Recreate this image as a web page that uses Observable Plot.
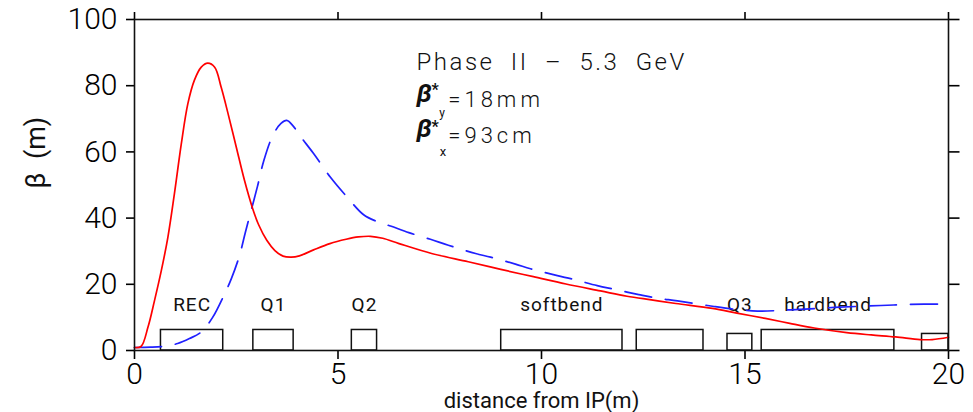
<!DOCTYPE html>
<html><head><meta charset="utf-8">
<script src="https://cdn.jsdelivr.net/npm/d3@7"></script>
<script src="https://cdn.jsdelivr.net/npm/@observablehq/plot@0.6"></script>
<style>
body{margin:0;background:#fff;}
#chart svg{display:block;}
</style></head><body><div id="chart"></div>
<script>
// beta_y (red, solid)
const redS = [0,0.16,0.33,0.49,0.66,0.82,0.98,1.15,1.31,1.47,1.64,1.8,1.97,2.13,2.3,2.5,2.7,2.9,3.05,3.25,3.45,3.65,3.85,4.05,4.4,4.8,5.2,5.5,5.8,6.1,6.5,7.3,8.2,9.0,9.8,10.6,11.45,12.1,12.7,13.3,14.2,14.8,15.5,16.1,16.7,17.5,18.1,18.7,19.3,19.6,20];
const redBeta = [0.9,1.2,7,15,24.2,34.2,47.3,62.4,74.5,81.6,85.6,86.8,85.6,79.5,71.5,61.5,51.5,43,38,33.3,30.2,28.5,28.2,28.6,30.4,32.3,33.6,34.3,34.5,33.9,32.3,29.3,26.8,24.5,22.3,20.1,18,16.4,15.3,14.2,12.7,11.3,9.7,8.2,6.8,5.4,4.7,4.1,3.3,3.3,4.0];
// beta_x (blue, dashed)
const blueS = [0,0.4,0.74,1.06,1.35,1.64,1.92,2.21,2.38,2.58,2.72,2.87,3.02,3.18,3.4,3.6,3.74,3.9,4.07,4.4,4.81,5.22,5.63,5.95,6.29,6.74,7.27,7.71,8.38,8.75,9.36,9.73,10.39,10.75,11.37,11.78,12.39,12.85,13.34,14.24,14.8,15.31,16.13,17.2,18.34,19.4,20];
const blueBeta = [0.9,1.0,1.3,2.1,3.6,5.6,10,17,21.7,28.7,35.5,42.5,49.5,57.5,65,68.6,69.5,67.8,64.8,59.5,52.4,46.4,41,39,37.6,35.6,33.6,31.8,29.3,28.2,26.1,24.7,22.6,21.6,19.6,18.5,16.9,15.8,15.0,13.3,12.4,11.9,12.3,13.0,13.6,14.0,14.0];
// magnets
const magnetStart = [0.65,2.92,5.34,9.01,12.34,14.57,15.41,19.35];
const magnetEnd   = [2.18,3.91,5.96,11.99,13.98,15.18,18.67,20.0];
const magnetHeight= [6.2,6.2,6.2,6.2,6.2,5.0,6.2,5.0];
const magnetLabel = ["REC","Q1","Q2","softbend","","Q3","hardbend",""];
// ticks
const xTicks = [0,5,10,15,20];
const yTicks = [0,20,40,60,80,100];

const red = redS.map((s,i)=>({s, b: redBeta[i]}));
const blue = blueS.map((s,i)=>({s, b: blueBeta[i]}));
const magnets = magnetStart.map((a,i)=>({a, e: magnetEnd[i], h: magnetHeight[i], label: magnetLabel[i], c:(a+magnetEnd[i])/2}));

const FONT = "Roboto, 'Liberation Sans', sans-serif";
const axisStyle = {fontSize: 30, fontWeight: 300, strokeWidth: 1.6};

const chart = Plot.plot({
  width: 973, height: 412,
  marginLeft: 134, marginRight: 25, marginTop: 19, marginBottom: 62,
  style: {fontFamily: FONT, background: "#fff", color: "#000", overflow: "visible"},
  x: {domain: [0,20]},
  y: {domain: [0,100]},
  marks: [
    Plot.axisX({anchor: "bottom", ticks: xTicks, tickSize: 9, tickPadding: 3, label: null, ...axisStyle}),
    Plot.axisX({anchor: "top", ticks: xTicks, tickSize: 8, tickFormat: () => "", label: null, strokeWidth: 1.6}),
    Plot.axisY({anchor: "left", ticks: yTicks, tickSize: 8, tickPadding: 9, label: null, ...axisStyle}),
    Plot.axisY({anchor: "right", ticks: yTicks, tickSize: 10.5, tickFormat: () => "", label: null, strokeWidth: 1.6}),
    Plot.rect(magnets, {x1: "a", x2: "e", y1: 0, y2: "h", fill: "none", stroke: "#111", strokeWidth: 1.5}),
    Plot.text(magnets.filter(d=>d.label), {x: "c", y: 11.9, text: "label", lineAnchor: "bottom", fontSize: 19, fill: "#111"}),
    Plot.line(blue, {x: "s", y: "b", stroke: "#2020ff", strokeWidth: 1.7, strokeDasharray: "27,14", curve: "catmull-rom"}),
    Plot.line(red, {x: "s", y: "b", stroke: "#ff0000", strokeWidth: 1.7, curve: "catmull-rom"}),
    Plot.frame({stroke: "#111", strokeWidth: 1.6}),
    // annotation
    Plot.text(["Phase II – 5.3 GeV"], {x: 6.93, y: 84.8, text: d=>d, textAnchor: "start", lineAnchor: "bottom", fontSize: 24, fontWeight: 300, fill: "#111"}),
    Plot.text(["β","β"], {x: 6.93, y: [75.2, 64.4], text: d=>d, textAnchor: "start", lineAnchor: "bottom", fontSize: 26, fontStyle: "italic", fontWeight: 700, fill: "#111"}),
    Plot.text(["*","*"], {x: 7.3, y: [77.3, 66.0], text: d=>d, textAnchor: "start", lineAnchor: "bottom", fontSize: 16, fontWeight: 700, fill: "#111"}),
    Plot.text(["y"], {x: 7.49, y: 70.6, text: d=>d, textAnchor: "start", lineAnchor: "bottom", fontSize: 12, fill: "#111"}),
    Plot.text(["x"], {x: 7.5, y: 58.8, text: d=>d, textAnchor: "start", lineAnchor: "bottom", fontSize: 13, fill: "#111"}),
    Plot.text(["=18mm","=93cm"], {x: 7.71, y: [73.7, 62.8], text: d=>d, textAnchor: "start", lineAnchor: "bottom", fontSize: 22, fontWeight: 300, fill: "#111"}),
    // axis titles
    Plot.text(["distance from IP(m)"], {frameAnchor: "bottom", dy: 57, text: d=>d, lineAnchor: "bottom", fontSize: 22, fill: "#111"}),
    Plot.text(["β  (m)"], {frameAnchor: "left", dx: -98, dy: 3.5, rotate: -90, text: d=>d, lineAnchor: "middle", fontSize: 27, fill: "#111"})
  ]
});

const svg = d3.select(chart);
svg.selectAll("text").each(function() {
  const t = this.textContent;
  const s = d3.select(this);
  if (t === "Phase II – 5.3 GeV") s.style("letter-spacing", "2.5px").style("word-spacing", "8px");
  else if (t === "=18mm" || t === "=93cm") s.style("letter-spacing", "4px");
  else if (magnetLabel.includes(t) && t) s.style("letter-spacing", "1px");
  else if (t === "β  (m)") s.style("white-space", "pre");
});
document.getElementById("chart").appendChild(chart);
</script></body></html>
